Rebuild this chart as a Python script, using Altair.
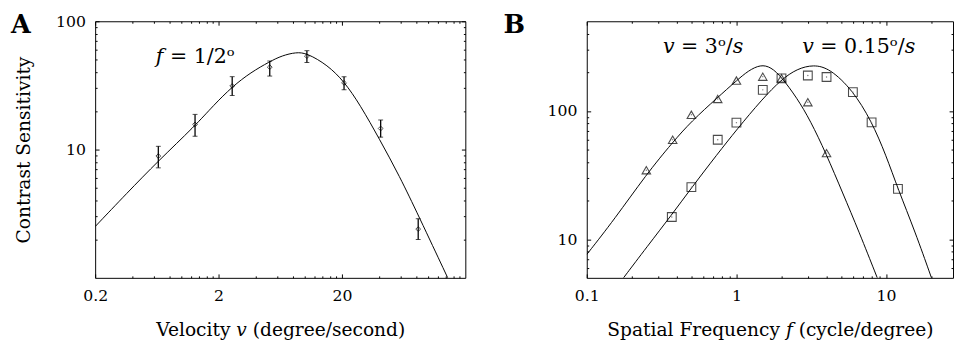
import altair as alt
import pandas as pd

FONT = "DejaVu Serif"

# ---------------- Panel A: contrast sensitivity vs velocity ----------------
a_velocity = [0.65, 1.29, 2.58, 5.2, 10.4, 20.8, 41.2, 83.0]
a_sensitivity = [8.9, 15.7, 31.3, 43.9, 53.5, 33.1, 14.6, 2.40]
a_err_low = [7.2, 12.7, 26.4, 37.4, 47.7, 29.2, 12.5, 1.99]
a_err_high = [10.6, 18.8, 37.0, 49.0, 59.0, 37.0, 17.0, 2.89]

a_fit_velocity = [0.2, 0.359, 0.65, 1.29, 1.82, 2.58, 3.66, 5.2, 6.54, 8.5,
                  10.4, 15.3, 20.8, 28.1, 40.4, 58.6, 83.0, 144.0]
a_fit_sensitivity = [2.51, 4.54, 8.16, 15.3, 22.1, 30.9, 40.0, 48.5, 54.0, 57.4,
                     56.5, 45.5, 34.0, 22.3, 12.0, 6.2, 3.09, 1.0]

# ---------------- Panel B: contrast sensitivity vs spatial frequency ----------------
b_tri_freq = [0.25, 0.375, 0.5, 0.75, 1.0, 1.5, 2.0, 3.0, 4.0]
b_tri_sens = [34.5, 59.6, 93.3, 124, 172.6, 185, 179.5, 117, 46.9]
b_sq_freq = [0.37, 0.5, 0.75, 1.0, 1.5, 2.0, 3.0, 4.0, 6.0, 8.0, 12.0]
b_sq_sens = [14.9, 25.5, 59.6, 81, 146, 179.5, 189, 184, 140, 81.5, 24.7]

b_fit3_freq = [0.1, 0.153, 0.25, 0.375, 0.5, 0.747, 1.0, 1.2, 1.45, 1.7, 2.0,
               2.54, 3.12, 3.96, 5.14, 6.58, 8.73]
b_fit3_sens = [7.6, 14.3, 32, 57, 83, 127, 172, 206, 230, 220, 184,
               126, 84, 46.9, 22.8, 11.5, 5.0]
b_fit015_freq = [0.176, 0.252, 0.371, 0.5, 0.747, 1.0, 1.49, 2.0, 2.54, 3.28,
                 4.21, 5.95, 7.97, 10.0, 12.0, 15.6, 20.1]
b_fit015_sens = [5.0, 8.7, 15.6, 25.1, 46.2, 71.1, 124, 176, 213, 230,
                 214, 146, 84, 45, 24.7, 11.5, 5.0]

# ---------------- axis tick values ----------------
a_x_major = [0.2, 2, 20]
a_x_minor = [0.4, 0.6, 0.8, 1.0, 1.2, 1.4, 1.6, 1.8,
             4, 6, 8, 10, 12, 14, 16, 18,
             40, 60, 80, 100, 120, 140, 160, 180]
a_y_major = [10, 100]
a_y_minor = [2, 3, 4, 5, 6, 7, 8, 9, 20, 30, 40, 50, 60, 70, 80, 90]
b_x_major = [0.1, 1, 10]
b_x_minor = [0.2, 0.3, 0.4, 0.5, 0.6, 0.7, 0.8, 0.9,
             2, 3, 4, 5, 6, 7, 8, 9, 20]
b_y_major = [10, 100]
b_y_minor = [6, 7, 8, 9, 20, 30, 40, 50, 60, 70, 80, 90, 200, 300, 400]

# annotations (anchor in data units)
a_note = pd.DataFrame({"x": [0.62], "y": [47.4], "t": ["𝑓 = 1/2ᵒ"]})
b_note = pd.DataFrame({"x": [0.323, 2.75], "y": [285, 285],
                       "t": ["𝑣 = 3ᵒ/𝑠", "𝑣 = 0.15ᵒ/𝑠"]})

A_W, B_W, H = 378, 374, 262


def ax(orient, values, size, labels=False, title=None, **kw):
    d = dict(orient=orient, values=values, tickSize=size, offset=-size,
             domain=False, grid=False, labels=labels, tickColor="black",
             tickWidth=1, title=title)
    if labels:
        d.update(format="~g", labelFont=FONT, labelFontSize=16,
                 labelColor="black", labelPadding=10, labelFlush=False,
                 labelOverlap=False)
    if title:
        d.update(titleFont=FONT, titleFontSize=19, titleFontWeight="normal",
                 titleColor="black")
    d.update(kw)
    return alt.Axis(**d)


# ---------------- Panel A ----------------
sxA = alt.Scale(type="log", domain=[0.2, 200])
syA = alt.Scale(type="log", domain=[1, 100])

a_fit = pd.DataFrame({"v": a_fit_velocity, "s": a_fit_sensitivity})
a_pts = pd.DataFrame({"v": a_velocity, "s": a_sensitivity,
                      "lo": a_err_low, "hi": a_err_high})

a_curve = alt.Chart(a_fit).mark_line(color="black", strokeWidth=1,
                                     interpolate="basis", clip=True).encode(
    x=alt.X("v:Q", scale=sxA,
            axis=ax("bottom", a_x_major, 4, labels=True,
                    title="Velocity 𝑣 (degree/second)", titlePadding=18)),
    y=alt.Y("s:Q", scale=syA,
            axis=ax("left", a_y_major, 4, labels=True,
                    title="Contrast Sensitivity", titlePadding=22)),
)
a_marks = alt.Chart(a_pts).mark_point(shape="diamond", size=24, filled=False,
                                      color="black", strokeWidth=1).encode(
    x=alt.X("v:Q", scale=sxA, axis=ax("top", a_x_major, 4)),
    y=alt.Y("s:Q", scale=syA, axis=ax("right", a_y_major, 4)),
)
a_err = alt.Chart(a_pts).mark_rule(color="black", strokeWidth=1.3).encode(
    x=alt.X("v:Q", scale=sxA, axis=ax("bottom", a_x_minor, 2)),
    y=alt.Y("lo:Q", scale=syA, axis=ax("left", a_y_minor, 2)),
    y2="hi:Q",
)
a_cap_lo = alt.Chart(a_pts).mark_tick(orient="horizontal", size=5, thickness=1,
                                      color="black").encode(
    x=alt.X("v:Q", scale=sxA, axis=ax("top", a_x_minor, 2)),
    y=alt.Y("lo:Q", scale=syA, axis=ax("right", a_y_minor, 2)),
)
a_cap_hi = alt.Chart(a_pts).mark_tick(orient="horizontal", size=5, thickness=1,
                                      color="black").encode(
    x=alt.X("v:Q", scale=sxA, axis=None),
    y=alt.Y("hi:Q", scale=syA, axis=None),
)
a_text = alt.Chart(a_note).mark_text(align="left", baseline="alphabetic",
                                     font=FONT, fontSize=21, color="black").encode(
    x=alt.X("x:Q", scale=sxA, axis=None),
    y=alt.Y("y:Q", scale=syA, axis=None),
    text="t:N",
)
a_label = alt.Chart(pd.DataFrame({"t": ["A"]})).mark_text(
    align="left", baseline="alphabetic", font=FONT, fontSize=26,
    fontWeight="bold", color="black").encode(
    x=alt.value(-86), y=alt.value(12), text="t:N")

panelA = alt.layer(a_curve, a_marks, a_err, a_cap_lo, a_cap_hi, a_text, a_label).resolve_axis(
    x="independent", y="independent").properties(width=A_W, height=H)

# ---------------- Panel B ----------------
sxB = alt.Scale(type="log", domain=[0.1, 28])
syB = alt.Scale(type="log", domain=[5, 500])

b_fit = pd.concat([
    pd.DataFrame({"f": b_fit3_freq, "s": b_fit3_sens, "c": "v3"}),
    pd.DataFrame({"f": b_fit015_freq, "s": b_fit015_sens, "c": "v015"}),
])
b_tri = pd.DataFrame({"f": b_tri_freq, "s": b_tri_sens})
b_sq = pd.DataFrame({"f": b_sq_freq, "s": b_sq_sens})

b_curve = alt.Chart(b_fit).mark_line(color="black", strokeWidth=1,
                                     interpolate="basis", clip=True).encode(
    x=alt.X("f:Q", scale=sxB,
            axis=ax("bottom", b_x_major, 4, labels=True,
                    title="Spatial Frequency 𝑓 (cycle/degree)", titlePadding=18)),
    y=alt.Y("s:Q", scale=syB, axis=ax("left", b_y_major, 4, labels=True)),
    detail="c:N",
)
b_tri_mark = alt.Chart(b_tri).mark_point(shape="triangle-up", size=75, filled=False,
                                         color="black", strokeWidth=1.1).encode(
    x=alt.X("f:Q", scale=sxB, axis=ax("top", b_x_major, 4)),
    y=alt.Y("s:Q", scale=syB, axis=ax("right", b_y_major, 4)),
)
b_sq_mark = alt.Chart(b_sq).mark_point(shape="square", size=80, filled=False,
                                       color="black", strokeWidth=1.1).encode(
    x=alt.X("f:Q", scale=sxB, axis=ax("bottom", b_x_minor, 2)),
    y=alt.Y("s:Q", scale=syB, axis=ax("left", b_y_minor, 2)),
)
b_dots = alt.Chart(pd.concat([b_tri, b_sq])).mark_circle(size=2, color="#777",
                                                        opacity=1).encode(
    x=alt.X("f:Q", scale=sxB, axis=ax("top", b_x_minor, 2)),
    y=alt.Y("s:Q", scale=syB, axis=ax("right", b_y_minor, 2)),
)
b_text = alt.Chart(b_note).mark_text(align="left", baseline="alphabetic",
                                     font=FONT, fontSize=21, color="black").encode(
    x=alt.X("x:Q", scale=sxB, axis=None),
    y=alt.Y("y:Q", scale=syB, axis=None),
    text="t:N",
)
b_label = alt.Chart(pd.DataFrame({"t": ["B"]})).mark_text(
    align="left", baseline="alphabetic", font=FONT, fontSize=26,
    fontWeight="bold", color="black").encode(
    x=alt.value(-85), y=alt.value(12), text="t:N")

panelB = alt.layer(b_curve, b_tri_mark, b_sq_mark, b_dots, b_text, b_label).resolve_axis(
    x="independent", y="independent").properties(width=B_W, height=H)

chart = alt.hconcat(panelA, panelB, spacing=37).properties(
    padding={"left": 2, "top": 0, "right": 0, "bottom": 0},
    background="white",
).configure_view(stroke="black", strokeWidth=1)

chart.save("out.html", embed_options={"renderer": "svg", "actions": False})
